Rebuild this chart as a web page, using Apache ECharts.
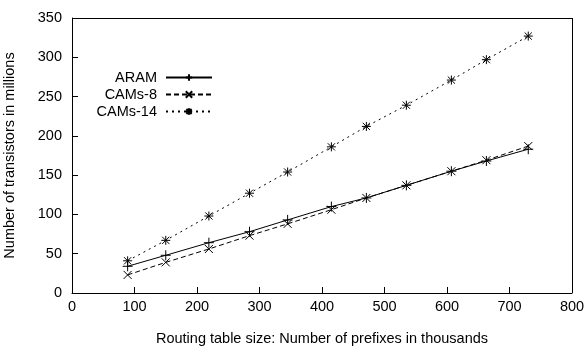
<!DOCTYPE html>
<html><head><meta charset="utf-8">
<script src="https://cdn.jsdelivr.net/npm/echarts@6/dist/echarts.min.js"></script>
<style>html,body{margin:0;padding:0;background:#fff}#c{width:586px;height:350px}</style>
</head><body><div id="c"></div>
<script>
const prefixes = [89, 150, 219, 284, 345, 415, 471, 535, 607, 663, 730];
const aram = [34, 48, 64, 78, 93, 110, 121, 137, 155, 168, 183];
const cams8 = [23, 39, 56, 73, 88, 106, 121, 137, 155, 169, 187];
const cams14 = [41, 67, 98, 127, 154, 186, 212, 239, 271, 297, 327];
const xTicks = [0, 100, 200, 300, 400, 500, 600, 700, 800];
const yTicks = [0, 50, 100, 150, 200, 250, 300, 350];
const xMax = xTicks[xTicks.length - 1];
const yMax = yTicks[yTicks.length - 1];

const FONT = 'Liberation Sans';
const FS = 14.5;
const plus = 'path://M0,-1L0,1M-1,0L1,0';
const cross = 'path://M-1,-1L1,1M-1,1L1,-1';
const star = 'path://M0,-1L0,1M-1,0L1,0M-0.8,-0.8L0.8,0.8M-0.8,0.8L0.8,-0.8';
const pair = a => prefixes.map((x, i) => [x, a[i]]);

const mk = (name, data, sym, dash, size) => ({
  name, type: 'line', data: pair(data), symbol: sym, symbolSize: size,
  lineStyle: {color: '#000', width: 1, type: dash ? dash : 'solid'},
  itemStyle: {color: '#000', borderColor: '#000', borderWidth: 1},
  emphasis: {disabled: true}, animation: false, z: 3
});

const tick = () => ({show: true, inside: true, length: 6, lineStyle: {color: '#000', width: 1}});
const line = () => ({show: true, onZero: false, lineStyle: {color: '#000', width: 1}});
const labelStyle = () => ({fontFamily: FONT, fontSize: FS, color: '#000'});
const legendItem = (name, top) => ({
  data: [name], right: 373, top, orient: 'vertical', align: 'right',
  itemWidth: 46, itemHeight: 8, itemGap: 0, padding: 0,
  textStyle: {fontFamily: FONT, fontSize: FS, color: '#000', padding: [0, 4, 0, 0]},
  selectedMode: false
});

const aramSeries = mk('ARAM', aram, plus, null, 10);
aramSeries.markLine = {
  silent: true, animation: false, symbol: ['none', 'none'],
  label: {show: false}, emphasis: {disabled: true},
  lineStyle: {color: '#000', width: 1, type: 'solid'},
  data: [{yAxis: yMax}, {xAxis: xMax}]
};

const chart = echarts.init(document.getElementById('c'));
chart.setOption({
  animation: false,
  grid: {left: 72, right: 14, top: 18, bottom: 57, outerBoundsMode: 'none'},
  xAxis: {type: 'value', min: 0, max: xMax, interval: 100, position: 'bottom',
    axisLine: line(), axisTick: tick(), splitLine: {show: false},
    name: 'Routing table size: Number of prefixes in thousands', nameLocation: 'middle', nameGap: 38,
    nameTextStyle: labelStyle(),
    axisLabel: Object.assign({margin: 6, formatter: v => xTicks.includes(v) ? String(v) : ''}, labelStyle())},
  yAxis: {type: 'value', min: 0, max: yMax, interval: 50, position: 'left',
    axisLine: line(), axisTick: tick(), splitLine: {show: false},
    name: 'Number of transistors in millions', nameLocation: 'middle', nameGap: 55,
    nameTextStyle: labelStyle(),
    axisLabel: Object.assign({margin: 10, formatter: v => yTicks.includes(v) ? String(v) : ''}, labelStyle())},
  series: [
    aramSeries,
    mk('CAMs-8', cams8, cross, [5, 3], 8),
    mk('CAMs-14', cams14, star, [2, 4], 9)
  ],
  legend: [legendItem('ARAM', 70), legendItem('CAMs-8', 87), legendItem('CAMs-14', 104)]
});
</script></body></html>
